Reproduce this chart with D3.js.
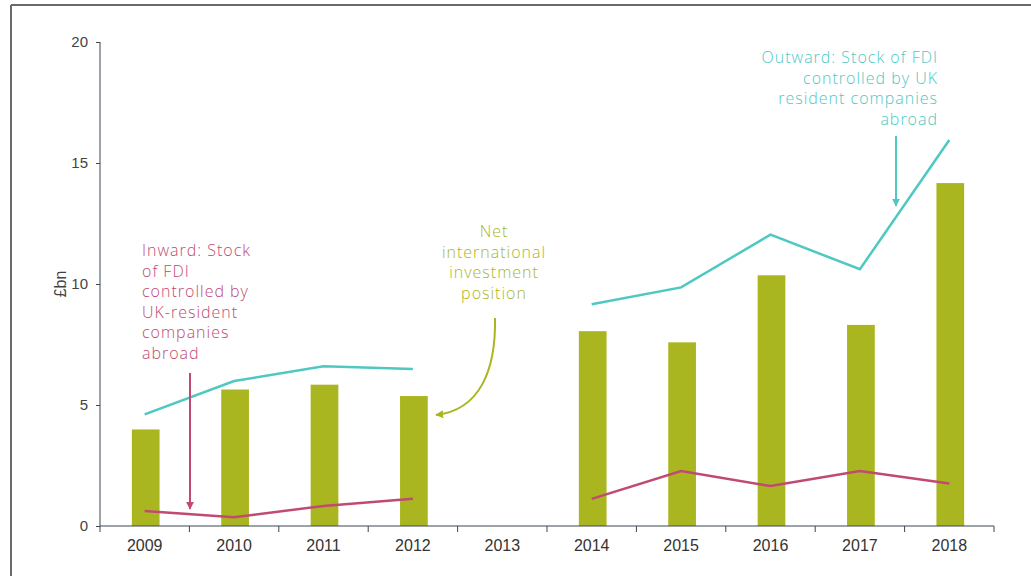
<!DOCTYPE html>
<html>
<head>
<meta charset="utf-8">
<script src="https://cdn.jsdelivr.net/npm/d3@7"></script>
<style>
  body { margin: 0; background: #fff; }
  text { font-family: "Liberation Sans", Arial, sans-serif; }
  .note { font-family: "Open Sans", sans-serif; font-size: 16px; font-weight: 300; letter-spacing: 1px; }
</style>
</head>
<body>
<svg id="chart" width="1031" height="576"></svg>
<script>
// years on the x axis
const years = ["2009","2010","2011","2012","2013","2014","2015","2016","2017","2018"];
// net international investment position (bars), £bn
const netPosition = [3.99, 5.64, 5.84, 5.37, null, 8.05, 7.59, 10.36, 8.31, 14.17];
// outward stock (cyan line)
const outward = [4.61, 5.99, 6.6, 6.49, null, 9.16, 9.86, 12.04, 10.61, 15.95];
// inward stock (pink line)
const inward = [0.62, 0.36, 0.83, 1.13, null, 1.12, 2.27, 1.65, 2.27, 1.76];
const yTicks = [0, 5, 10, 15, 20];

const barColor = "#aab61f", outColor = "#4ec8c3", inColor = "#c14a72";

var svg = d3.select("#chart");

// frame (only top and left edges are visible)
svg.append("line").attr("x1", 11).attr("y1", 5).attr("x2", 1031).attr("y2", 5)
  .attr("stroke", "#6b6b6b").attr("stroke-width", 2);
svg.append("line").attr("x1", 11).attr("y1", 5).attr("x2", 11).attr("y2", 576)
  .attr("stroke", "#6b6b6b").attr("stroke-width", 2);

var x = d3.scaleBand().domain(years).range([100, 994]).paddingInner(0).paddingOuter(0);
var y = d3.scaleLinear().domain([0, 20]).range([526, 42]);
var barW = x.bandwidth() * 0.31;

// bars
svg.append("g").selectAll("rect")
  .data(years.map((yr, i) => ({yr: yr, v: netPosition[i]})).filter(d => d.v != null))
  .enter().append("rect")
  .attr("x", d => x(d.yr) + x.bandwidth() / 2 - barW / 2 + 1)
  .attr("y", d => y(d.v))
  .attr("width", barW)
  .attr("height", d => y(0) - y(d.v))
  .style("fill", barColor);

// lines, with a gap at 2013
function drawLine(vals, color) {
  var line = d3.line()
    .defined(d => d.v != null)
    .x(d => x(d.yr) + x.bandwidth() / 2)
    .y(d => y(d.v));
  svg.append("path")
    .datum(years.map((yr, i) => ({yr: yr, v: vals[i]})))
    .attr("d", line)
    .attr("fill", "none")
    .attr("stroke", color)
    .attr("stroke-width", 2.5);
}
drawLine(outward, outColor);
drawLine(inward, inColor);

// axes
var axisColor = "#3b4650";
var yAxis = svg.append("g").attr("transform", "translate(100,0)")
  .call(d3.axisLeft(y).tickValues(yTicks).tickSize(4).tickPadding(8));
yAxis.select(".domain").attr("stroke", axisColor).attr("d", "M0,42V526");
yAxis.selectAll(".tick line").attr("stroke", axisColor);
yAxis.selectAll(".tick text").attr("fill", "#444").style("font-size", "15px")
  .style("font-family", "Liberation Sans, Arial, sans-serif");

var xAxis = svg.append("g").attr("transform", "translate(0,526)")
  .call(d3.axisBottom(x).tickSize(0).tickPadding(14));
xAxis.select(".domain").attr("stroke", axisColor).attr("d", "M100,0H994");
xAxis.selectAll(".tick text").attr("fill", "#333").style("font-size", "16px")
  .style("font-family", "Liberation Sans, Arial, sans-serif");
// tick marks at band edges
svg.append("g").selectAll("line")
  .data(years.concat(["end"]))
  .enter().append("line")
  .attr("x1", (d, i) => 100 + i * x.step()).attr("x2", (d, i) => 100 + i * x.step())
  .attr("y1", 526).attr("y2", 532)
  .attr("stroke", axisColor);

svg.append("text")
  .attr("transform", "translate(66,284) rotate(-90)")
  .attr("text-anchor", "middle")
  .attr("fill", "#444")
  .style("font-size", "16px")
  .text("£bn");

// arrow markers
function marker(id, color) {
  svg.append("defs").append("marker")
    .attr("id", id).attr("viewBox", "0 0 10 10")
    .attr("refX", 9).attr("refY", 5)
    .attr("markerWidth", 4).attr("markerHeight", 4)
    .attr("orient", "auto")
    .append("path").attr("d", "M0,0L10,5L0,10z").attr("fill", color);
}
marker("arrIn", inColor);
marker("arrOut", outColor);
marker("arrNet", barColor);

// annotations
function note(lines, xPos, y0, anchor, color) {
  var t = svg.append("text").attr("class", "note")
    .attr("text-anchor", anchor).attr("fill", color);
  lines.forEach(function (l, i) {
    t.append("tspan").attr("x", xPos).attr("y", y0 + i * 20.5).text(l);
  });
}
note(["Inward: Stock", "of FDI", "controlled by", "UK-resident", "companies", "abroad"], 142, 256, "start", inColor);
note(["Net", "international", "investment", "position"], 494, 237, "middle", barColor);
note(["Outward: Stock of FDI", "controlled by UK", "resident companies", "abroad"], 938, 63, "end", outColor);

svg.append("line").attr("x1", 190).attr("y1", 373).attr("x2", 190).attr("y2", 509)
  .attr("stroke", inColor).attr("stroke-width", 2).attr("marker-end", "url(#arrIn)");
svg.append("line").attr("x1", 896).attr("y1", 136).attr("x2", 896).attr("y2", 206)
  .attr("stroke", outColor).attr("stroke-width", 2).attr("marker-end", "url(#arrOut)");
svg.append("path").attr("d", "M495,318C496,370 480,410 436,415")
  .attr("fill", "none").attr("stroke", barColor).attr("stroke-width", 2)
  .attr("marker-end", "url(#arrNet)");
</script>
</body>
</html>
